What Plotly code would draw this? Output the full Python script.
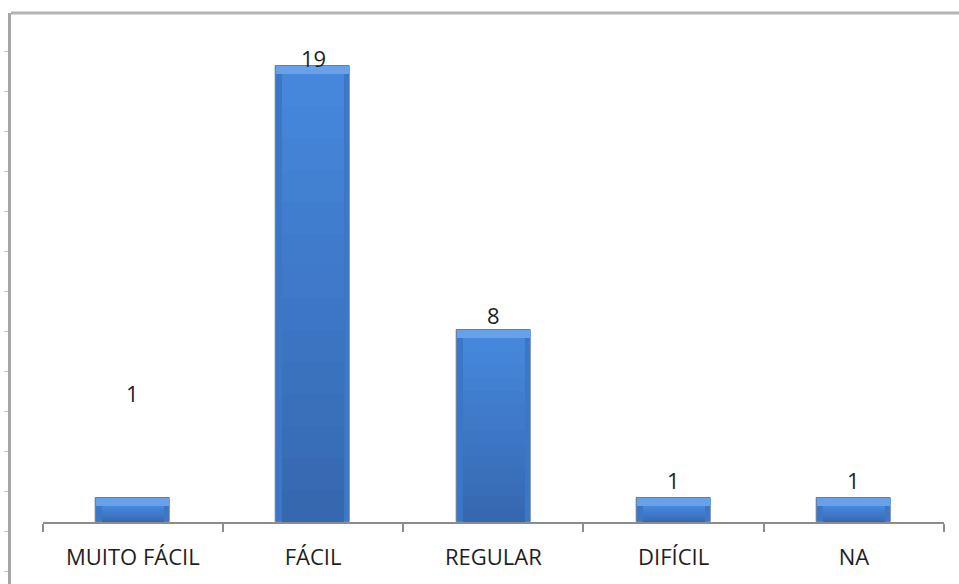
import plotly.graph_objects as go

# Survey answers: how easy was it?
categories = ["MUITO FÁCIL", "FÁCIL", "REGULAR", "DIFÍCIL", "NA"]
counts = [1, 19, 8, 1, 1]

W, H = 959, 584
ML, MR, MT, MB = 11, 0, 13, 0
plot_w = W - ML - MR
plot_h = H - MT - MB

# main plot area in pixels
x_left_px, x_right_px = 42.7, 944
baseline_px = 522
px_per_unit = 24

x_dom = [(x_left_px - ML) / plot_w, (x_right_px - ML) / plot_w]
y_dom = [(H - MB - baseline_px) / plot_h, 1]
y_top = (baseline_px - MT) / px_per_unit

BAR_W = 0.41
cat_px = (x_right_px - x_left_px) / len(categories)
FACE_W = BAR_W - 2 * 6 / cat_px
BEVEL = 0.34  # height of the lighter top band, in data units

FONT = "Open Sans"


def lerp(c1, c2, t):
    a = [int(c1[i:i + 2], 16) for i in (1, 3, 5)]
    b = [int(c2[i:i + 2], 16) for i in (1, 3, 5)]
    return "rgb({},{},{})".format(*[round(a[j] + (b[j] - a[j]) * t) for j in range(3)])


fig = go.Figure()

# empty trace that carries the outer frame axis
fig.add_trace(go.Scatter(x=[], y=[], xaxis="x2", yaxis="y2",
                         hoverinfo="skip", showlegend=False))

# outer bar (side bevels)
fig.add_trace(go.Bar(
    x=categories, y=counts, width=BAR_W,
    marker=dict(color="#3c76c6", line=dict(color="#6a7d99", width=1)),
    hoverinfo="skip", showlegend=False,
))

# bar face with a vertical gradient, built from stacked slices
N = 14
for k in range(N):
    t = k / (N - 1)
    fig.add_trace(go.Bar(
        x=categories,
        y=[(v - BEVEL) / N for v in counts],
        base=[(v - BEVEL) * k / N for v in counts],
        width=FACE_W,
        marker=dict(color=lerp("#3668b0", "#4687dc", t), line=dict(width=0)),
        hoverinfo="skip", showlegend=False,
    ))

# light top bevel
fig.add_trace(go.Bar(
    x=categories, y=[BEVEL] * len(counts),
    base=[v - BEVEL for v in counts], width=BAR_W,
    marker=dict(color="#66a1e9", line=dict(width=0)),
    hoverinfo="skip", showlegend=False,
))

# value labels
label_shift = [105, 8, 15, 18, 18]
for c, v, s in zip(categories, counts, label_shift):
    fig.add_annotation(
        x=c, y=v, text=str(v), showarrow=False,
        yanchor="middle", yshift=s,
        font=dict(family=FONT, size=22, color="#1e1e1e"),
    )

# top frame line
fig.add_shape(type="line", xref="paper", yref="paper",
              x0=0, x1=1, y0=1, y1=1,
              line=dict(color="#b3b3b3", width=3))

fig.update_layout(
    width=W, height=H,
    margin=dict(l=ML, r=MR, t=MT, b=MB),
    paper_bgcolor="white", plot_bgcolor="rgba(0,0,0,0)",
    barmode="overlay", bargap=0,
    xaxis=dict(
        domain=x_dom, anchor="y", type="category",
        range=[-0.5, len(categories) - 0.5],
        showline=True, linecolor="#8c8c8c", linewidth=2,
        ticks="outside", tickson="boundaries", ticklen=8,
        tickcolor="#8c8c8c", tickwidth=2,
        ticklabelstandoff=15,
        tickfont=dict(family=FONT, size=22, color="#1e1e1e"),
        showgrid=False, zeroline=False, fixedrange=True,
    ),
    yaxis=dict(
        domain=y_dom, anchor="x", range=[0, y_top],
        visible=False, fixedrange=True,
    ),
    xaxis2=dict(domain=[0, 1], anchor="y2", visible=False, range=[0, 1]),
    yaxis2=dict(
        domain=[0, 1], anchor="x2",
        range=[0, plot_h / 40],
        tickmode="linear", tick0=12.3 / 40, dtick=1,
        ticks="outside", ticklen=4, tickcolor="#bfbfbf", tickwidth=1,
        showticklabels=False,
        showline=True, linecolor="#a6a6a6", linewidth=3,
        showgrid=False, zeroline=False, fixedrange=True,
    ),
)

fig.write_html("out.html")
